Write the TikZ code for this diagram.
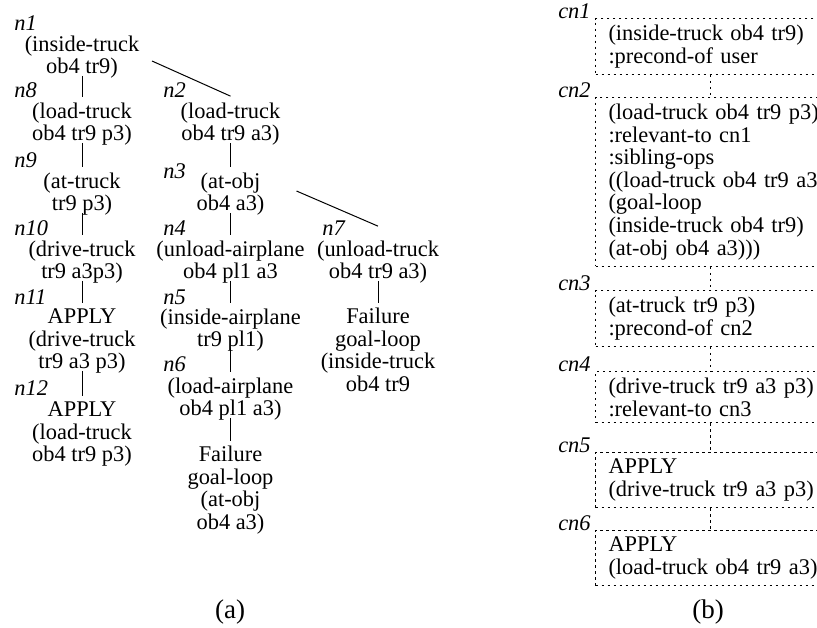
\documentclass[tikz,border=0pt]{standalone}
\usepackage{fontspec}
\setmainfont{Liberation Serif}
\usepackage{tikz}

\newcommand{\tfont}{\fontsize{11.2}{11.3}\selectfont}

\tikzset{
    goal/.style={align=center, inner sep=0pt, font=\tfont},
    tag/.style={anchor=west, inner sep=0pt, font=\tfont\itshape},
    ctag/.style={anchor=base east, inner sep=0pt, font=\tfont\itshape},
    caption/.style={inner sep=0pt, font=\fontsize{13.5}{14}\selectfont},
    tie/.style={line width=0.5pt},
    link/.style={tie, shorten <=-1.5pt, shorten >=2.5pt},
    dots/.style={line width=0.5pt, dash pattern=on 1.2pt off 1.8pt},
    cbox/.style={dots, draw, anchor=north west, align=left, text width=110pt,
        inner xsep=6.5pt, inner ysep=3.25pt, font=\tfont}
}

\begin{document}
\begin{tikzpicture}[x=0.5pt, y=-0.5pt]
    \useasboundingbox (0,0) rectangle (817,627);

    % (a) the goal tree
    \node[goal] (n1) at (82,57) {(inside-truck\\ob4 tr9)};
    \node[goal] (n8) at (82,124) {(load-truck\\ob4 tr9 p3)};
    \node[goal] (n9) at (82,194) {(at-truck\\tr9 p3)};
    \node[goal] (n10) at (82,262) {(drive-truck\\tr9 a3p3)};
    \node[goal] (n11) at (82,341) {APPLY\\(drive-truck\\tr9 a3 p3)};
    \node[goal] (n12) at (82,434) {APPLY\\(load-truck\\ob4 tr9 p3)};
    \node[goal] (n2) at (230.5,124) {(load-truck\\ob4 tr9 a3)};
    \node[goal] (n3) at (230.5,194) {(at-obj\\ob4 a3)};
    \node[goal] (n4) at (230.5,262) {(unload-airplane\\ob4 pl1 a3};
    \node[goal] (n5) at (230.5,330) {(inside-airplane\\tr9 pl1)};
    \node[goal] (n6) at (230.5,399) {(load-airplane\\ob4 pl1 a3)};
    \node[goal] (f6) at (230.5,490) {Failure\\goal-loop\\(at-obj\\ob4 a3)};
    \node[goal] (n7) at (378,262) {(unload-truck\\ob4 tr9 a3)};
    \node[goal] (f7) at (378,350) {Failure\\goal-loop\\(inside-truck\\ob4 tr9};

    \node[tag] (t1) at (14,23) {n1};
    \node[tag] (t8) at (14,90) {n8};
    \node[tag] (t9) at (14,160) {n9};
    \node[tag] (t10) at (14,228) {n10};
    \node[tag] (t11) at (14,297) {n11};
    \node[tag] (t12) at (14,388) {n12};
    \node[tag] (t2) at (163,90) {n2};
    \node[tag] (t3) at (163,171) {n3};
    \node[tag] (t4) at (163,228) {n4};
    \node[tag] (t5) at (163,297) {n5};
    \node[tag] (t6) at (163,364) {n6};
    \node[tag] (t7) at (322,228) {n7};

    \draw[link] (n1.south) -- (n8.north);
    \draw[link] (n8.south) -- (n9.north);
    \draw[link] (n9.south) -- (n10.north);
    \draw[link] (n10.south) -- (n11.north);
    \draw[link] (n11.south) -- (n12.north);
    \draw[link] (n2.south) -- (n3.north);
    \draw[link] (n3.south) -- (n4.north);
    \draw[link] (n4.south) -- (n5.north);
    \draw[link] (n5.south) -- (n6.north);
    \draw[link] (n6.south) -- (f6.north);
    \draw[link] (n7.south) -- (f7.north);
    \draw[tie] ([xshift=35pt,yshift=-2pt]n1.center) -- ([yshift=3pt]n2.north);
    \draw[tie] ([xshift=33pt,yshift=1.5pt]n3.center) -- ([yshift=7pt]n7.north);

    \node[caption] (capa) at (230,612) {(a)};

    % (b) the chain of nodes
    \node[cbox] (c1) at (595,18) {(inside-truck ob4 tr9)\\:precond-of user};
    \node[cbox] (c2) at (595,97) {(load-truck ob4 tr9 p3)\\:relevant-to cn1\\:sibling-ops\\((load-truck ob4 tr9 a3)\\(goal-loop\\(inside-truck ob4 tr9)\\(at-obj ob4 a3)))};
    \node[cbox] (c3) at (595,290) {(at-truck tr9 p3)\\:precond-of cn2};
    \node[cbox] (c4) at (595,371) {(drive-truck tr9 a3 p3)\\:relevant-to cn3};
    \node[cbox] (c5) at (595,452) {APPLY\\(drive-truck tr9 a3 p3)};
    \node[cbox] (c6) at (595,530) {APPLY\\(load-truck ob4 tr9 a3)};

    \node[ctag] (k1) at (591,18) {cn1};
    \node[ctag] (k2) at (591,97) {cn2};
    \node[ctag] (k3) at (591,290) {cn3};
    \node[ctag] (k4) at (591,371) {cn4};
    \node[ctag] (k5) at (591,452) {cn5};
    \node[ctag] (k6) at (591,530) {cn6};

    \draw[dots] ([xshift=57.5pt]c1.south west) -- ([xshift=57.5pt]c2.north west);
    \draw[dots] ([xshift=57.5pt]c2.south west) -- ([xshift=57.5pt]c3.north west);
    \draw[dots] ([xshift=57.5pt]c3.south west) -- ([xshift=57.5pt]c4.north west);
    \draw[dots] ([xshift=57.5pt]c4.south west) -- ([xshift=57.5pt]c5.north west);
    \draw[dots] ([xshift=57.5pt]c5.south west) -- ([xshift=57.5pt]c6.north west);

    \node[caption] (capb) at (708,612) {(b)};
\end{tikzpicture}
\end{document}
